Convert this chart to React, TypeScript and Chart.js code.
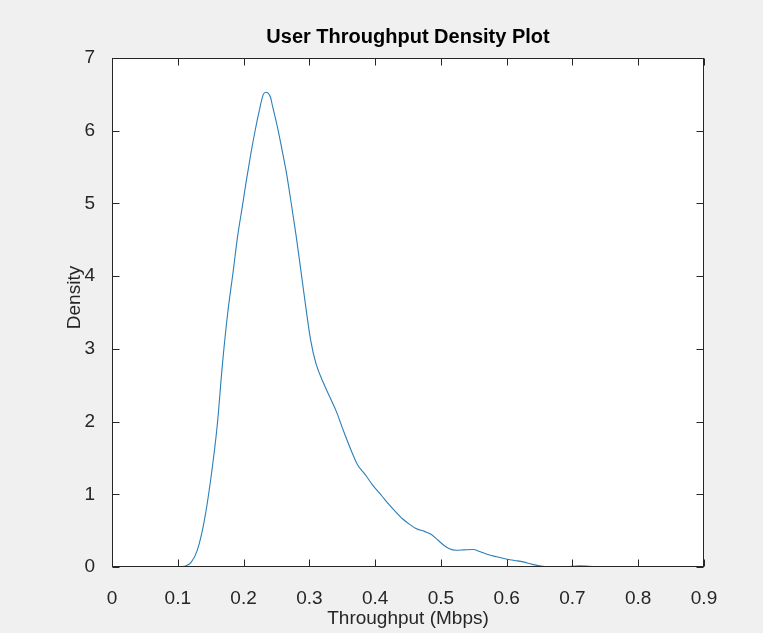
import React, { useEffect, useRef } from "react";
import { Chart, registerables } from "chart.js";

Chart.register(...registerables);

const chartTitle = "User Throughput Density Plot";
const xAxisLabel = "Throughput (Mbps)";
const yAxisLabel = "Density";

const throughputX = [
  0.1, 0.11, 0.12, 0.13, 0.14, 0.15, 0.16, 0.168, 0.176, 0.184, 0.191, 0.198,
  0.204, 0.211, 0.218, 0.224, 0.23, 0.234, 0.237, 0.241, 0.244, 0.252, 0.258,
  0.265, 0.272, 0.28, 0.288, 0.295, 0.302, 0.31, 0.323, 0.332, 0.341, 0.352,
  0.366, 0.373, 0.385, 0.396, 0.41, 0.422, 0.432, 0.442, 0.452, 0.462, 0.475,
  0.485, 0.493, 0.503, 0.513, 0.523, 0.535, 0.549, 0.56, 0.569, 0.585, 0.599,
  0.612, 0.625, 0.638, 0.65, 0.665, 0.69, 0.711, 0.725, 0.745, 0.78, 0.833,
];
const densityY = [
  0.0, 0.01, 0.06, 0.24, 0.62, 1.2, 1.95, 2.8, 3.5, 4.05, 4.55, 4.95, 5.3,
  5.68, 6.02, 6.28, 6.5, 6.53, 6.52, 6.46, 6.34, 6.03, 5.76, 5.43, 5.03, 4.55,
  4.02, 3.55, 3.12, 2.8, 2.5, 2.32, 2.14, 1.87, 1.55, 1.41, 1.27, 1.13, 0.98,
  0.85, 0.75, 0.66, 0.59, 0.53, 0.49, 0.45, 0.39, 0.31, 0.25, 0.23, 0.235, 0.24,
  0.21, 0.18, 0.14, 0.11, 0.09, 0.07, 0.04, 0.015, 0.003, 0.005, 0.015, 0.01,
  0.002, 0.001, 0.0,
];

const xTickMin = 0;
const xTickMax = 0.9;
const xTickStep = 0.1;
const yTickMin = 0;
const yTickMax = 7;
const yTickStep = 1;

const FONT = "'Liberation Sans', Arial, Helvetica, sans-serif";
const TEXT = "#262626";

const matlabAxes = {
  id: "matlabAxes",
  beforeDraw(chart: any) {
    const { ctx, chartArea, width, height } = chart;
    ctx.save();
    ctx.fillStyle = "#f0f0f0";
    ctx.fillRect(0, 0, width, height);
    ctx.fillStyle = "#ffffff";
    ctx.fillRect(
      chartArea.left,
      chartArea.top,
      chartArea.right - chartArea.left,
      chartArea.bottom - chartArea.top
    );
    ctx.restore();
  },
  afterDatasetsDraw(chart: any) {
    const { ctx, chartArea, scales } = chart;
    const l = Math.round(chartArea.left) + 0.5;
    const r = Math.round(chartArea.right) - 0.5;
    const t = Math.round(chartArea.top) + 0.5;
    const b = Math.round(chartArea.bottom) - 0.5;
    const len = 7;
    ctx.save();
    ctx.strokeStyle = TEXT;
    ctx.lineWidth = 1;
    ctx.beginPath();
    scales.x.ticks.forEach((tk: any) => {
      const px = Math.round(scales.x.getPixelForValue(tk.value)) + 0.5;
      ctx.moveTo(px, b);
      ctx.lineTo(px, b - len);
      ctx.moveTo(px, t);
      ctx.lineTo(px, t + len);
    });
    scales.y.ticks.forEach((tk: any) => {
      const py = Math.round(scales.y.getPixelForValue(tk.value)) + 0.5;
      ctx.moveTo(l, py);
      ctx.lineTo(l + len, py);
      ctx.moveTo(r, py);
      ctx.lineTo(r - len, py);
    });
    ctx.stroke();
    ctx.strokeRect(l, t, r - l, b - t);

    // title, centred over the axes box
    ctx.fillStyle = "#000000";
    ctx.font = `bold 20px ${FONT}`;
    ctx.textAlign = "center";
    ctx.textBaseline = "middle";
    ctx.fillText(chartTitle, (chartArea.left + chartArea.right) / 2, 37);

    // y-axis label
    ctx.fillStyle = TEXT;
    ctx.font = `19px ${FONT}`;
    ctx.translate(75, (chartArea.top + chartArea.bottom) / 2 - 15);
    ctx.rotate(-Math.PI / 2);
    ctx.fillText(yAxisLabel, 0, 0);
    ctx.restore();
  },
};

export default function App() {
  const canvasRef = useRef<HTMLCanvasElement>(null);

  useEffect(() => {
    const points = throughputX.map((x, i) => ({ x, y: densityY[i] }));
    const chart = new Chart(canvasRef.current as HTMLCanvasElement, {
      type: "line",
      data: {
        datasets: [
          {
            data: points,
            borderColor: "#2a7fb8",
            borderWidth: 1.1,
            pointRadius: 0,
            cubicInterpolationMode: "monotone",
            fill: false,
          },
        ],
      },
      options: {
        animation: false,
        responsive: false,
        layout: { padding: { left: 0, right: 59, top: 58, bottom: 0 } },
        plugins: {
          legend: { display: false },
          tooltip: { enabled: false },
          title: { display: false },
        },
        scales: {
          x: {
            type: "linear",
            min: xTickMin,
            max: xTickMax,
            afterFit(scale: any) {
              scale.height = 66;
            },
            grid: { display: false },
            border: { display: false },
            ticks: {
              stepSize: xTickStep,
              color: TEXT,
              padding: 12,
              maxRotation: 0,
              font: { family: FONT, size: 19 },
              callback: (v: any) => String(Math.round(Number(v) * 10) / 10),
            },
            title: {
              display: true,
              text: xAxisLabel,
              color: TEXT,
              font: { family: FONT, size: 19 },
              padding: { top: 0, bottom: 3 },
            },
          },
          y: {
            type: "linear",
            min: yTickMin,
            max: yTickMax,
            afterFit(scale: any) {
              scale.width = 112;
            },
            grid: { display: false },
            border: { display: false },
            ticks: {
              stepSize: yTickStep,
              color: TEXT,
              padding: 9,
              font: { family: FONT, size: 19 },
            },
            title: { display: false },
          },
        },
      },
      plugins: [matlabAxes],
    } as any);
    return () => chart.destroy();
  }, []);

  return (
    <div style={{ position: "fixed", left: 0, top: 0, width: 763, height: 633 }}>
      <canvas ref={canvasRef} width={763} height={633} />
    </div>
  );
}
